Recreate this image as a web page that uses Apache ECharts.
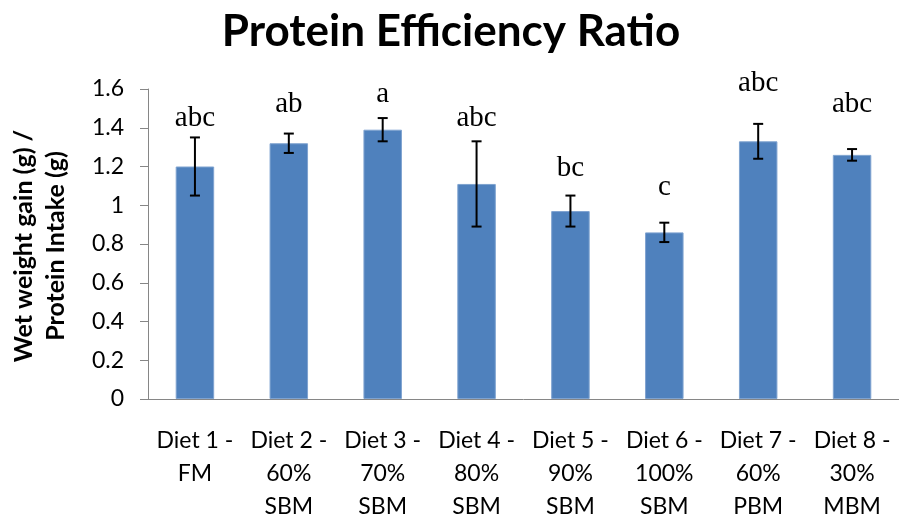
<!DOCTYPE html>
<html>
<head>
<meta charset="utf-8">
<script src="https://cdn.jsdelivr.net/npm/echarts@6/dist/echarts.min.js"></script>
<style>
  html, body { margin: 0; padding: 0; background: #fff; }
  #chart { width: 899px; height: 523px; }
</style>
</head>
<body>
<div id="chart"></div>
<script>
// Protein efficiency ratio per diet: mean, standard error and significance letters
const diets = [
  'Diet 1 -\nFM',
  'Diet 2 -\n60%\nSBM',
  'Diet 3 -\n70%\nSBM',
  'Diet 4 -\n80%\nSBM',
  'Diet 5 -\n90%\nSBM',
  'Diet 6 -\n100%\nSBM',
  'Diet 7 -\n60%\nPBM',
  'Diet 8 -\n30%\nMBM'
];
const perMean = [1.20, 1.32, 1.39, 1.11, 0.97, 0.86, 1.33, 1.26];
const perError = [0.15, 0.05, 0.06, 0.22, 0.08, 0.05, 0.09, 0.03];
const groupLetters = ['abc', 'ab', 'a', 'abc', 'bc', 'c', 'abc', 'abc'];
const yTicks = [0, 0.2, 0.4, 0.6, 0.8, 1, 1.2, 1.4, 1.6];

// Height on the value axis where each letter group sits
const letterLevel = [1.375, 1.445, 1.495, 1.375, 1.115, 1.015, 1.555, 1.445];

const chart = echarts.init(document.getElementById('chart'));

const errorData = perMean.map((m, i) => [i, m, perError[i]]);
const letterData = groupLetters.map((t, i) => [i, letterLevel[i], t]);

chart.setOption({
  animation: false,
  grid: { left: 148, top: 89, width: 754, bottom: 122, containLabel: false },
  graphic: [
    {
      type: 'text', x: 451, y: 32,
      style: {
        text: 'Protein Efficiency Ratio',
        font: 'bold 44px Lato', fill: '#000',
        align: 'center', verticalAlign: 'middle'
      }
    },
    {
      type: 'text', x: 40, y: 246, rotation: Math.PI / 2,
      style: {
        text: 'Wet weight gain (g) /\nProtein Intake (g)',
        font: 'bold 25px Lato', fill: '#000',
        align: 'center', verticalAlign: 'middle', lineHeight: 32
      }
    }
  ],
  xAxis: {
    type: 'category',
    data: diets,
    axisLine: { lineStyle: { color: '#868686', width: 1 } },
    axisTick: { show: false },
    axisLabel: {
      interval: 0, margin: 25, color: '#000',
      fontFamily: 'Lato', fontSize: 23, lineHeight: 33, align: 'center'
    }
  },
  yAxis: {
    type: 'value',
    min: 0, max: 1.6, interval: 0.2,
    axisLine: { show: true, lineStyle: { color: '#868686', width: 1 } },
    axisTick: { show: true, length: 8, lineStyle: { color: '#868686' } },
    splitLine: { show: false },
    axisLabel: {
      margin: 24, color: '#000', fontFamily: 'Lato', fontSize: 23,
      formatter: v => {
        const hit = yTicks.find(t => Math.abs(t - v) < 1e-6);
        return hit === undefined ? '' : String(hit);
      }
    }
  },
  series: [
    {
      type: 'bar',
      data: perMean,
      barWidth: '41%',
      itemStyle: { color: '#4F81BD', borderColor: '#7FA3D0', borderWidth: 1 }
    },
    {
      type: 'custom',
      data: errorData,
      z: 5,
      renderItem: (params, api) => {
        const i = api.value(0);
        const m = api.value(1);
        const e = api.value(2);
        const top = api.coord([i, m + e]);
        const bot = api.coord([i, m - e]);
        const cap = 5;
        const style = { stroke: '#000', lineWidth: 2 };
        return {
          type: 'group',
          children: [
            { type: 'line', shape: { x1: top[0], y1: top[1], x2: bot[0], y2: bot[1] }, style },
            { type: 'line', shape: { x1: top[0] - cap, y1: top[1], x2: top[0] + cap, y2: top[1] }, style },
            { type: 'line', shape: { x1: bot[0] - cap, y1: bot[1], x2: bot[0] + cap, y2: bot[1] }, style }
          ]
        };
      }
    },
    {
      type: 'custom',
      data: letterData,
      z: 6,
      renderItem: (params, api) => {
        const p = api.coord([api.value(0), api.value(1)]);
        return {
          type: 'text',
          x: p[0], y: p[1],
          style: {
            text: groupLetters[params.dataIndex],
            font: '29px "Liberation Serif"', fill: '#000',
            align: 'center', verticalAlign: 'bottom'
          }
        };
      }
    }
  ]
});
</script>
</body>
</html>
